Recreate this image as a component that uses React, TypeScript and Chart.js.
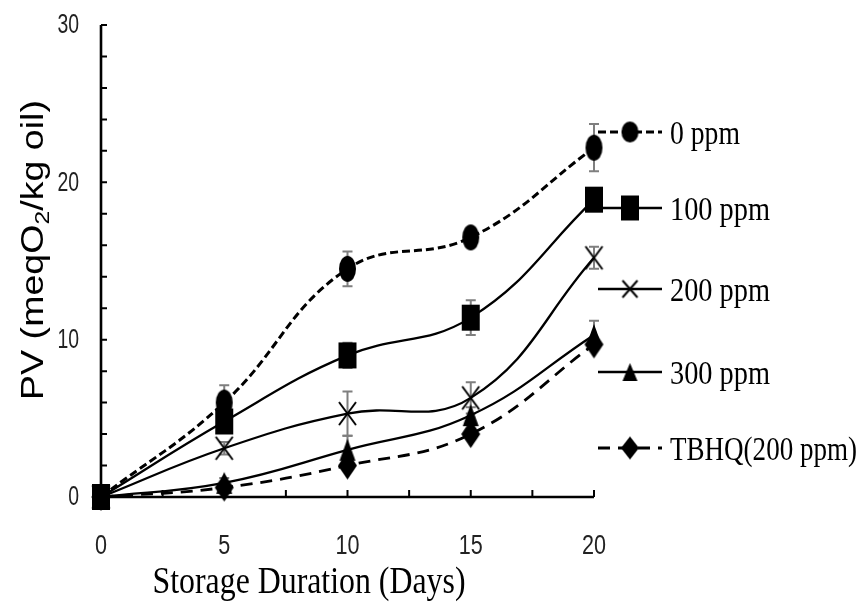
import React, { useEffect, useRef } from "react";
import { Chart, registerables } from "chart.js";

Chart.register(...registerables);

// ---- data ----
const days = [0, 5, 10, 15, 20];
const pv0 = [0, 6.0, 14.5, 16.5, 22.2];
const pv100 = [0, 4.8, 9.0, 11.4, 18.9];
const pv200 = [0, 3.1, 5.3, 6.3, 15.2];
const pv300 = [0, 0.9, 3.0, 5.2, 10.3];
const pvTBHQ = [0, 0.6, 2.0, 4.0, 9.7];
const err0 = [0, 1.1, 1.1, 0.4, 1.5];
const err100 = [0, 0.5, 0.8, 1.1, 0.4];
const err200 = [0, 0.4, 1.4, 1.0, 0.7];
const err300 = [0, 0.3, 0.9, 0.5, 0.9];
const errTBHQ = [0, 0.2, 0.3, 0.3, 0.3];
const seriesLabels = ["0 ppm", "100 ppm", "200 ppm", "300 ppm", "TBHQ(200 ppm)"];
const xTickLabels = [0, 5, 10, 15, 20];
const yTickLabels = [0, 10, 20, 30];
const xMinorTicks = [0, 2.5, 5, 7.5, 10, 12.5, 15, 17.5, 20];
const yMinorTicks = [0, 2, 4, 6, 8, 10, 12, 14, 16, 18, 20, 22, 24, 26, 28, 30];
const xTitle = "Storage Duration (Days)";

type Kind = "circle" | "square" | "cross" | "triangle" | "diamond";

function makeMarker(kind: Kind, w: number, h: number): HTMLCanvasElement {
  const c = document.createElement("canvas");
  c.width = w + 4;
  c.height = h + 4;
  const g = c.getContext("2d")!;
  const cx = c.width / 2;
  const cy = c.height / 2;
  g.fillStyle = "#000";
  g.strokeStyle = "#000";
  g.beginPath();
  if (kind === "circle") {
    g.ellipse(cx, cy, w / 2, h / 2, 0, 0, Math.PI * 2);
    g.fill();
  } else if (kind === "square") {
    g.fillRect(cx - w / 2, cy - h / 2, w, h);
  } else if (kind === "cross") {
    g.lineWidth = 2;
    g.moveTo(cx - w / 2, cy - h / 2);
    g.lineTo(cx + w / 2, cy + h / 2);
    g.moveTo(cx + w / 2, cy - h / 2);
    g.lineTo(cx - w / 2, cy + h / 2);
    g.stroke();
  } else if (kind === "triangle") {
    g.moveTo(cx, cy - h / 2);
    g.lineTo(cx + w / 2, cy + h / 2);
    g.lineTo(cx - w / 2, cy + h / 2);
    g.closePath();
    g.fill();
  } else {
    g.moveTo(cx, cy - h / 2);
    g.lineTo(cx + w / 2, cy);
    g.lineTo(cx, cy + h / 2);
    g.lineTo(cx - w / 2, cy);
    g.closePath();
    g.fill();
  }
  return c;
}

function fitText(
  ctx: CanvasRenderingContext2D,
  text: string,
  x: number,
  y: number,
  font: string,
  sx: number,
  align: CanvasTextAlign,
  baseline: CanvasTextBaseline
) {
  ctx.save();
  ctx.font = font;
  ctx.translate(x, y);
  ctx.scale(sx, 1);
  ctx.textAlign = align;
  ctx.textBaseline = baseline;
  ctx.fillText(text, 0, 0);
  ctx.restore();
}

export default function App() {
  const ref = useRef<HTMLCanvasElement | null>(null);

  useEffect(() => {
    if (!ref.current) return;
    const markers = {
      circle: makeMarker("circle", 17, 26),
      square: makeMarker("square", 18, 26),
      cross: makeMarker("cross", 17, 23),
      triangle: makeMarker("triangle", 16, 22),
      diamond: makeMarker("diamond", 19, 28),
    };
    const legendMarkers = {
      circle: makeMarker("circle", 17, 21),
      square: makeMarker("square", 18, 25),
      cross: makeMarker("cross", 15, 17),
      triangle: makeMarker("triangle", 15, 18),
      diamond: makeMarker("diamond", 18, 23),
    };
    const seriesValues = [pv0, pv100, pv200, pv300, pvTBHQ];
    const seriesErr = [err0, err100, err200, err300, errTBHQ];
    const kinds: Kind[] = ["circle", "square", "cross", "triangle", "diamond"];
    const dashes = [[8, 4], [], [], [], [12, 8]];
    const widths = [3, 2.3, 2.3, 2.3, 2.8];

    const datasets = seriesValues.map((vals, i) => ({
      label: seriesLabels[i],
      data: days.map((d, j) => ({ x: d, y: vals[j] })),
      borderColor: "#000",
      backgroundColor: "#000",
      borderWidth: widths[i],
      borderDash: dashes[i],
      tension: 0.42,
      pointStyle: markers[kinds[i]],
      pointRadius: 10,
      clip: false as any,
      fill: false,
    }));

    const errPlugin = {
      id: "errbars",
      beforeDatasetsDraw(chart: any) {
        const ctx = chart.ctx;
        const xs = chart.scales.x;
        const ys = chart.scales.y;
        // axes
        ctx.save();
        ctx.strokeStyle = "#000";
        ctx.lineWidth = 2.6;
        const l = xs.getPixelForValue(0);
        const r = xs.getPixelForValue(20);
        const b = ys.getPixelForValue(0);
        const t = ys.getPixelForValue(30);
        ctx.beginPath();
        ctx.moveTo(l, t);
        ctx.lineTo(l, b);
        ctx.lineTo(r, b);
        ctx.stroke();
        ctx.lineWidth = 2;
        ctx.beginPath();
        yMinorTicks.forEach((v) => {
          const y = ys.getPixelForValue(v);
          ctx.moveTo(l, y);
          ctx.lineTo(l + 6, y);
        });
        xMinorTicks.forEach((v) => {
          const x = xs.getPixelForValue(v);
          ctx.moveTo(x, b);
          ctx.lineTo(x, b - 7);
        });
        ctx.stroke();
        // error bars
        ctx.strokeStyle = "#7f7f7f";
        ctx.lineWidth = 2;
        seriesValues.forEach((vals, i) => {
          vals.forEach((v, j) => {
            const e = seriesErr[i][j];
            if (!e) return;
            const x = xs.getPixelForValue(days[j]);
            const y1 = ys.getPixelForValue(v + e);
            const y2 = ys.getPixelForValue(v - e);
            ctx.beginPath();
            ctx.moveTo(x, y1);
            ctx.lineTo(x, y2);
            ctx.moveTo(x - 5, y1);
            ctx.lineTo(x + 5, y1);
            ctx.moveTo(x - 5, y2);
            ctx.lineTo(x + 5, y2);
            ctx.stroke();
          });
        });
        ctx.restore();
      },
      afterDraw(chart: any) {
        const ctx = chart.ctx;
        const xs = chart.scales.x;
        const ys = chart.scales.y;
        ctx.save();
        ctx.fillStyle = "#000";
        // y tick labels
        const tickFont = "27px 'Liberation Sans', Arial, sans-serif";
        ctx.font = tickFont;
        const sxTick = 24 / ctx.measureText("20").width;
        ctx.fillStyle = "#222";
        yTickLabels.forEach((v) => {
          fitText(ctx, String(v), 79, ys.getPixelForValue(v) + 1, tickFont, sxTick * 0.9, "right", "middle");
        });
        xTickLabels.forEach((v) => {
          fitText(ctx, String(v), xs.getPixelForValue(v), 547, tickFont, sxTick, "center", "middle");
        });
        ctx.fillStyle = "#000";
        // x title
        const tFont = "38px 'Liberation Serif', 'DejaVu Serif', serif";
        ctx.font = tFont;
        const sxT = 313 / ctx.measureText(xTitle).width;
        fitText(ctx, xTitle, 309, 593, tFont, sxT, "center", "alphabetic");
        // y title (rotated)
        const yFont = "32px 'Liberation Sans', Arial, sans-serif";
        const subFont = "21px 'Liberation Sans', Arial, sans-serif";
        const p1 = "PV (meqO";
        const p2 = "2";
        const p3 = "/kg oil)";
        ctx.font = yFont;
        const w1 = ctx.measureText(p1).width;
        const w3 = ctx.measureText(p3).width;
        ctx.font = subFont;
        const w2 = ctx.measureText(p2).width;
        const total = w1 + w2 + w3;
        const sy = 300 / total;
        ctx.save();
        ctx.translate(43, 250);
        ctx.rotate(-Math.PI / 2);
        ctx.scale(sy, 1);
        ctx.textAlign = "left";
        ctx.textBaseline = "alphabetic";
        let cx = -total / 2;
        ctx.font = yFont;
        ctx.fillText(p1, cx, 0);
        cx += w1;
        ctx.font = subFont;
        ctx.fillText(p2, cx, 6);
        cx += w2;
        ctx.font = yFont;
        ctx.fillText(p3, cx, 0);
        ctx.restore();
        // legend
        const legY = [132, 208, 289, 372, 448];
        const legW = [70, 100, 100, 100, 187];
        const lFont = "33px 'Liberation Serif', 'DejaVu Serif', serif";
        seriesLabels.forEach((lab, i) => {
          const y = legY[i];
          ctx.save();
          ctx.strokeStyle = "#000";
          ctx.lineWidth = widths[i];
          ctx.setLineDash(dashes[i]);
          ctx.beginPath();
          ctx.moveTo(i === 1 ? 594 : 598, y);
          ctx.lineTo(662, y);
          ctx.stroke();
          ctx.restore();
          const m = legendMarkers[kinds[i]];
          ctx.drawImage(m, 630 - m.width / 2, y - m.height / 2);
          ctx.font = lFont;
          const sxl = legW[i] / ctx.measureText(lab).width;
          fitText(ctx, lab, 670, y + 12, lFont, sxl, "left", "alphabetic");
        });
        ctx.restore();
      },
    };

    const chart = new Chart(ref.current, {
      type: "line",
      data: { datasets: datasets as any },
      options: {
        animation: false,
        responsive: false,
        devicePixelRatio: 1,
        layout: { padding: { left: 101, top: 25, right: 271, bottom: 111 } },
        plugins: { legend: { display: false }, tooltip: { enabled: false } },
        scales: {
          x: { type: "linear", min: 0, max: 20, display: false },
          y: { type: "linear", min: 0, max: 30, display: false },
        },
      },
      plugins: [errPlugin],
    });
    return () => chart.destroy();
  }, []);

  return (
    <div style={{ position: "absolute", left: 0, top: 0, width: 865, height: 608, background: "#fff" }}>
      <canvas ref={ref} width={865} height={608} />
    </div>
  );
}
